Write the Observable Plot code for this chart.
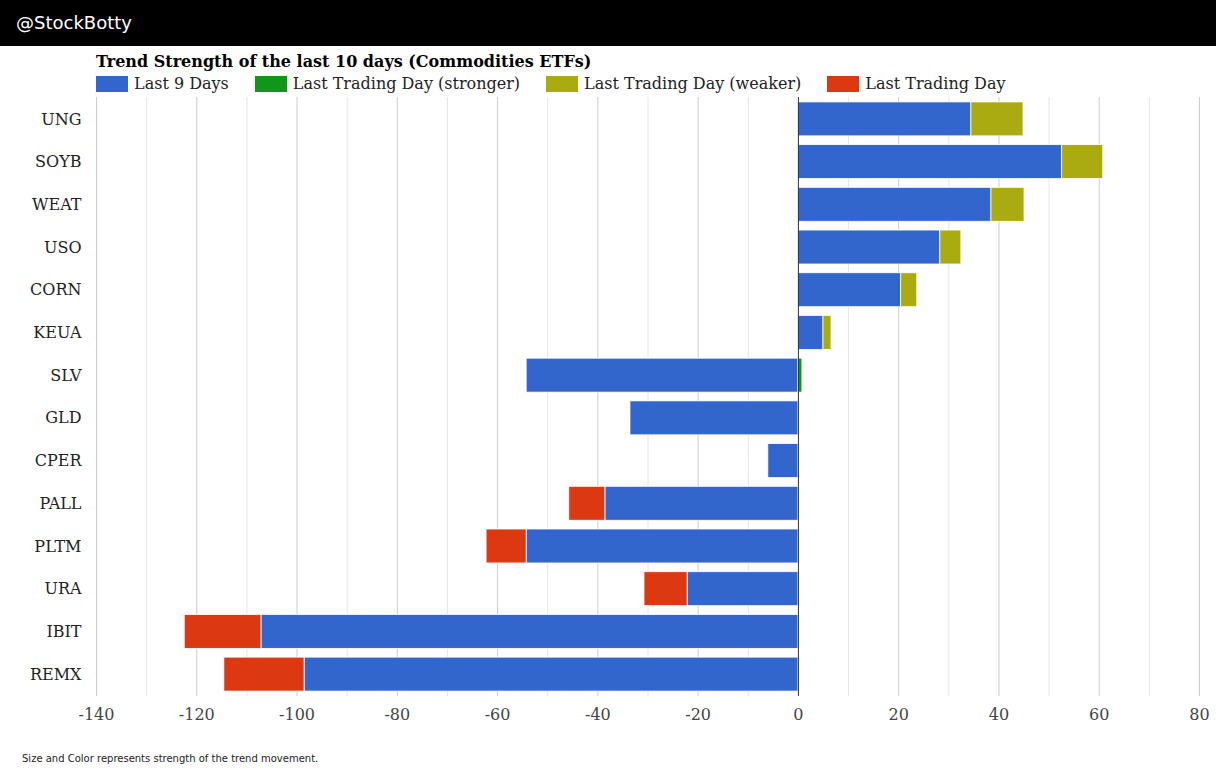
<!DOCTYPE html>
<html>
<head>
<meta charset="utf-8">
<script src="https://cdn.jsdelivr.net/npm/d3@7"></script>
<script src="https://cdn.jsdelivr.net/npm/@observablehq/plot@0.6"></script>
<style>
  body { margin: 0; background: #fff; width: 1216px; height: 769px; overflow: hidden; position: relative; }
  #header { position: absolute; left: 0; top: 0; width: 1216px; height: 46px; background: #000; }
  #header span { position: absolute; left: 16px; top: 12px; color: #fff; font: 18px "DejaVu Sans", sans-serif; }
  #title { position: absolute; left: 96px; top: 52px; font: bold 16px "DejaVu Serif", serif; color: #000; white-space: nowrap; }
  #legend { position: absolute; left: 96px; top: 74px; display: flex; font: 16px "DejaVu Serif", serif; color: #222; white-space: nowrap; }
  .item { display: flex; align-items: center; margin-right: 26px; }
  .sw { width: 32px; height: 16px; margin-right: 6px; }
  #chart { position: absolute; left: 0; top: 95px; }
  #foot { position: absolute; left: 22px; top: 753px; font: 10px "DejaVu Sans", sans-serif; color: #222; white-space: nowrap; }
</style>
</head>
<body>
<div id="header"><span>@StockBotty</span></div>
<div id="title">Trend Strength of the last 10 days (Commodities ETFs)</div>
<div id="legend"></div>
<div id="chart"></div>
<div id="foot">Size and Color represents strength of the trend movement.</div>
<script>
const tickers = ["UNG", "SOYB", "WEAT", "USO", "CORN", "KEUA", "SLV", "GLD", "CPER", "PALL", "PLTM", "URA", "IBIT", "REMX"];
const last9Days = [34.5, 52.6, 38.5, 28.3, 20.5, 5.0, -54.2, -33.5, -6.0, -38.5, -54.2, -22.1, -107.1, -98.5];
const lastDay = [10.4, 8.2, 6.6, 4.2, 3.2, 1.6, 0.8, 0, 0, -7.2, -8.0, -8.6, -15.3, -16.0];
const lastDayType = ["Last Trading Day (weaker)", "Last Trading Day (weaker)", "Last Trading Day (weaker)", "Last Trading Day (weaker)", "Last Trading Day (weaker)", "Last Trading Day (weaker)", "Last Trading Day (stronger)", "Last Trading Day", "Last Trading Day", "Last Trading Day", "Last Trading Day", "Last Trading Day", "Last Trading Day", "Last Trading Day"];
const seriesNames = ["Last 9 Days", "Last Trading Day (stronger)", "Last Trading Day (weaker)", "Last Trading Day"];
const seriesColors = ["#3366cc", "#109618", "#aaaa11", "#dc3912"];
const majorTicks = [-140, -120, -100, -80, -60, -40, -20, 0, 20, 40, 60, 80];
const minorTicks = [-130, -110, -90, -70, -50, -30, -10, 10, 30, 50, 70];

// legend
const legend = document.getElementById("legend");
seriesNames.forEach((n, i) => {
  const it = document.createElement("div");
  it.className = "item";
  it.innerHTML = `<div class="sw" style="background:${seriesColors[i]}"></div><span>${n}</span>`;
  legend.appendChild(it);
});

const rows = [];
tickers.forEach((t, i) => {
  rows.push({ticker: t, value: last9Days[i], type: seriesNames[0]});
  if (lastDay[i] !== 0) rows.push({ticker: t, value: lastDay[i], type: lastDayType[i]});
});

const chart = Plot.plot({
  width: 1216,
  height: 640,
  marginTop: 2,
  marginBottom: 39,
  marginLeft: 96,
  marginRight: 17,
  style: {fontFamily: "DejaVu Serif, serif", fontSize: "16px", color: "#222", background: "transparent"},
  x: {domain: [-140, 80], ticks: majorTicks, label: null},
  y: {domain: tickers, label: null, paddingInner: 0.205, paddingOuter: 0.115, round: false},
  color: {domain: seriesNames, range: seriesColors},
  marks: [
    Plot.ruleX(minorTicks, {stroke: "#e6e6e6", strokeOpacity: 1}),
    Plot.ruleX(majorTicks.filter(d => d !== 0), {stroke: "#cccccc", strokeOpacity: 1}),
    Plot.barX(rows, {y: "ticker", x: "value", fill: "type", stroke: "white", strokeWidth: 0.8}),
    Plot.ruleX([0], {stroke: "#333", strokeWidth: 1}),
    Plot.axisX({ticks: majorTicks, tickSize: 0, tickPadding: 12, fill: "#444", label: null, tickFormat: d => String(d)}),
    Plot.axisY({tickSize: 0, tickPadding: 15, fill: "#222", label: null})
  ]
});
document.getElementById("chart").appendChild(chart);
</script>
</body>
</html>
